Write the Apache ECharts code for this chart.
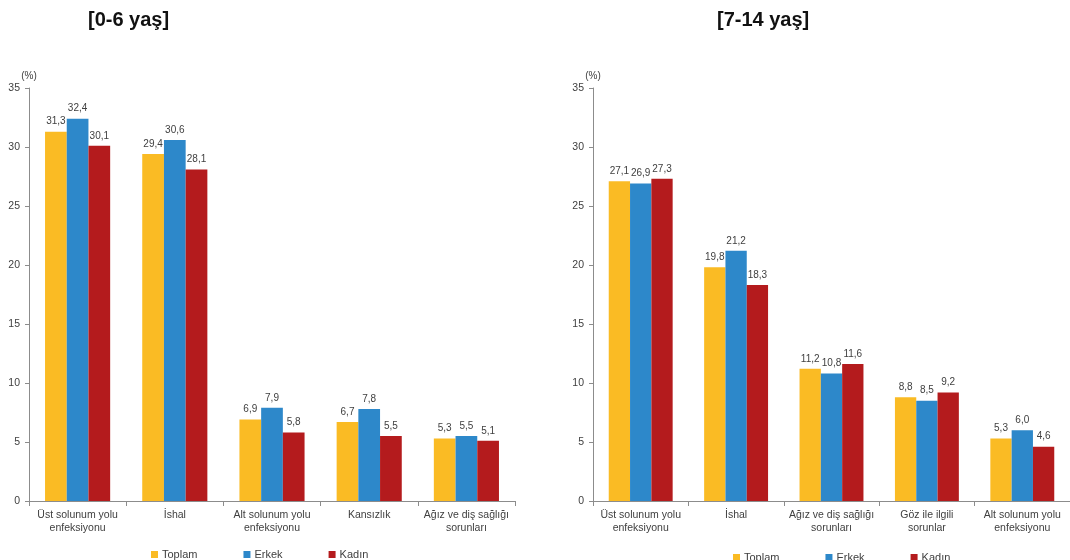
<!DOCTYPE html>
<html>
<head>
<meta charset="utf-8">
<script src="https://cdn.jsdelivr.net/npm/echarts@6/dist/echarts.min.js"></script>
<style>
  html, body { margin: 0; padding: 0; background: #fff; }
  #chart { width: 1070px; height: 560px; }
</style>
</head>
<body>
<div id="chart"></div>
<script>
// Age group 0-6
const catsYoung = ['Üst solunum yolu\nenfeksiyonu', 'İshal', 'Alt solunum yolu\nenfeksiyonu', 'Kansızlık', 'Ağız ve diş sağlığı\nsorunları'];
const toplamYoung = [31.3, 29.4, 6.9, 6.7, 5.3];
const erkekYoung  = [32.4, 30.6, 7.9, 7.8, 5.5];
const kadinYoung  = [30.1, 28.1, 5.8, 5.5, 5.1];

// Age group 7-14
const catsOld = ['Üst solunum yolu\nenfeksiyonu', 'İshal', 'Ağız ve diş sağlığı\nsorunları', 'Göz ile ilgili\nsorunlar', 'Alt solunum yolu\nenfeksiyonu'];
const toplamOld = [27.1, 19.8, 11.2, 8.8, 5.3];
const erkekOld  = [26.9, 21.2, 10.8, 8.5, 6.0];
const kadinOld  = [27.3, 18.3, 11.6, 9.2, 4.6];

const seriesNames = ['Toplam', 'Erkek', 'Kadın'];
const colors = ['#FABB24', '#2D88CA', '#B41B1D'];
const FONT = 'Liberation Sans, Arial, sans-serif';
const TXT = '#404040';
const AXIS = '#8c8c8c';

const fmt = v => v.toFixed(1).replace('.', ',');

function yAxis(idx) {
  return {
    gridIndex: idx, type: 'value', min: 0, max: 35, interval: 5,
    name: '(%)', nameLocation: 'end', nameGap: 7,
    nameTextStyle: { color: TXT, fontSize: 10, fontFamily: FONT },
    axisLine: { show: true, lineStyle: { color: AXIS, width: 1 } },
    axisTick: { show: true, length: 4, lineStyle: { color: AXIS } },
    splitLine: { show: false },
    axisLabel: { color: TXT, fontSize: 10.5, fontFamily: FONT, margin: 9 }
  };
}
function xAxis(idx, cats) {
  return {
    gridIndex: idx, type: 'category', data: cats,
    axisLine: { show: true, lineStyle: { color: AXIS, width: 1 } },
    axisTick: { show: true, length: 5, lineStyle: { color: AXIS } },
    axisLabel: { color: TXT, fontSize: 10.5, fontFamily: FONT, margin: 8, lineHeight: 13, interval: 0 }
  };
}
function bars(idx, data, k) {
  return {
    name: seriesNames[k], type: 'bar', xAxisIndex: idx, yAxisIndex: idx,
    data: data, barGap: '0%', barCategoryGap: '33%',
    itemStyle: { color: colors[k] },
    label: { show: true, position: 'top', distance: 5, color: TXT, fontSize: 10, fontFamily: FONT,
             formatter: p => fmt(p.value) },
    emphasis: { disabled: true }
  };
}
function legend(left, top) {
  return {
    data: seriesNames, left: left, top: top, icon: 'rect',
    itemWidth: 7, itemHeight: 7, itemGap: 46,
    textStyle: { color: TXT, fontSize: 11, fontFamily: FONT, padding: [0, 0, 0, -1] }
  };
}

const chart = echarts.init(document.getElementById('chart'));
chart.setOption({
  animation: false,
  color: colors,
  title: [
    { text: '[0-6 yaş]', left: 83, top: 5, textStyle: { fontSize: 20, fontWeight: 'bold', color: '#111', fontFamily: FONT } },
    { text: '[7-14 yaş]', left: 712, top: 5, textStyle: { fontSize: 20, fontWeight: 'bold', color: '#111', fontFamily: FONT } }
  ],
  legend: [legend(146, 544), legend(728, 547)],
  grid: [
    { left: 29, right: 555, top: 88, bottom: 59 },
    { left: 593, right: -8, top: 88, bottom: 59 }
  ],
  xAxis: [xAxis(0, catsYoung), xAxis(1, catsOld)],
  yAxis: [yAxis(0), yAxis(1)],
  series: [
    bars(0, toplamYoung, 0), bars(0, erkekYoung, 1), bars(0, kadinYoung, 2),
    bars(1, toplamOld, 0), bars(1, erkekOld, 1), bars(1, kadinOld, 2)
  ]
});
</script>
</body>
</html>
